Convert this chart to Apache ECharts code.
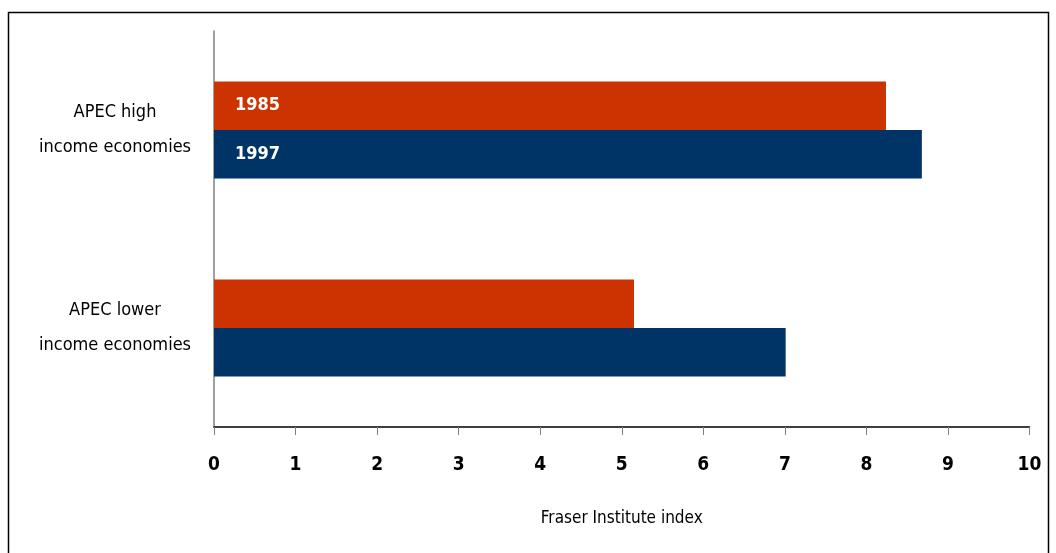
<!DOCTYPE html>
<html>
<head>
<meta charset="utf-8">
<script src="https://cdn.jsdelivr.net/npm/echarts@6/dist/echarts.min.js"></script>
<style>
  html, body { margin: 0; padding: 0; background: #ffffff; }
  #chart { width: 1056px; height: 553px; }
</style>
</head>
<body>
<div id="chart"></div>
<script>
// Economic freedom scores (Fraser Institute index) for APEC groups
const categories = ['APEC high\nincome economies', 'APEC lower\nincome economies'];
const years = ['1985', '1997'];
const values1985 = [8.24, 5.15];
const values1997 = [8.68, 7.01];
const xTicks = [0, 10, 1];

const FONT = '"DejaVu Sans Condensed", "Liberation Sans Narrow", "Arial Narrow", sans-serif';
const chart = echarts.init(document.getElementById('chart'), null, { renderer: 'canvas' });

function yearLabel(name) {
  return {
    show: true,
    position: 'insideLeft',
    distance: 21,
    color: '#ffffff',
    fontFamily: FONT,
    fontWeight: 'bold',
    fontSize: 18,
    formatter: function (p) { return p.dataIndex === 0 ? name : ''; }
  };
}

chart.setOption({
  animation: false,
  backgroundColor: '#ffffff',
  graphic: [{
    type: 'rect',
    shape: { x: 8.5, y: 12.5, width: 1040, height: 560 },
    style: { fill: 'none', stroke: '#000000', lineWidth: 1.5 },
    silent: true
  }],
  grid: { left: 214, right: 26.5, top: 31, bottom: 126, containLabel: false },
  xAxis: {
    type: 'value',
    min: xTicks[0], max: xTicks[1], interval: xTicks[2],
    name: 'Fraser Institute index',
    nameLocation: 'middle',
    nameGap: 83,
    nameTextStyle: { fontFamily: FONT, fontSize: 17, color: '#000000' },
    axisLine: { show: true, lineStyle: { color: '#000000', width: 1.5 } },
    axisTick: { show: true, length: 8, lineStyle: { color: '#808080', width: 1 } },
    axisLabel: { margin: 29, fontFamily: FONT, fontWeight: 'bold', fontSize: 19, color: '#000000' },
    splitLine: { show: false }
  },
  yAxis: {
    type: 'category',
    inverse: true,
    data: categories,
    axisLine: { show: true, lineStyle: { color: '#808080', width: 1.5 } },
    axisTick: { show: false },
    axisLabel: {
      margin: 99,
      align: 'center',
      fontFamily: FONT,
      fontSize: 18,
      lineHeight: 35,
      color: '#000000'
    }
  },
  series: [
    {
      name: years[0], type: 'bar', data: values1985,
      itemStyle: { color: '#CC3300' },
      barGap: '0%', barCategoryGap: '51%',
      label: yearLabel(years[0])
    },
    {
      name: years[1], type: 'bar', data: values1997,
      itemStyle: { color: '#003366' },
      barGap: '0%', barCategoryGap: '51%',
      label: yearLabel(years[1])
    }
  ]
});
</script>
</body>
</html>
